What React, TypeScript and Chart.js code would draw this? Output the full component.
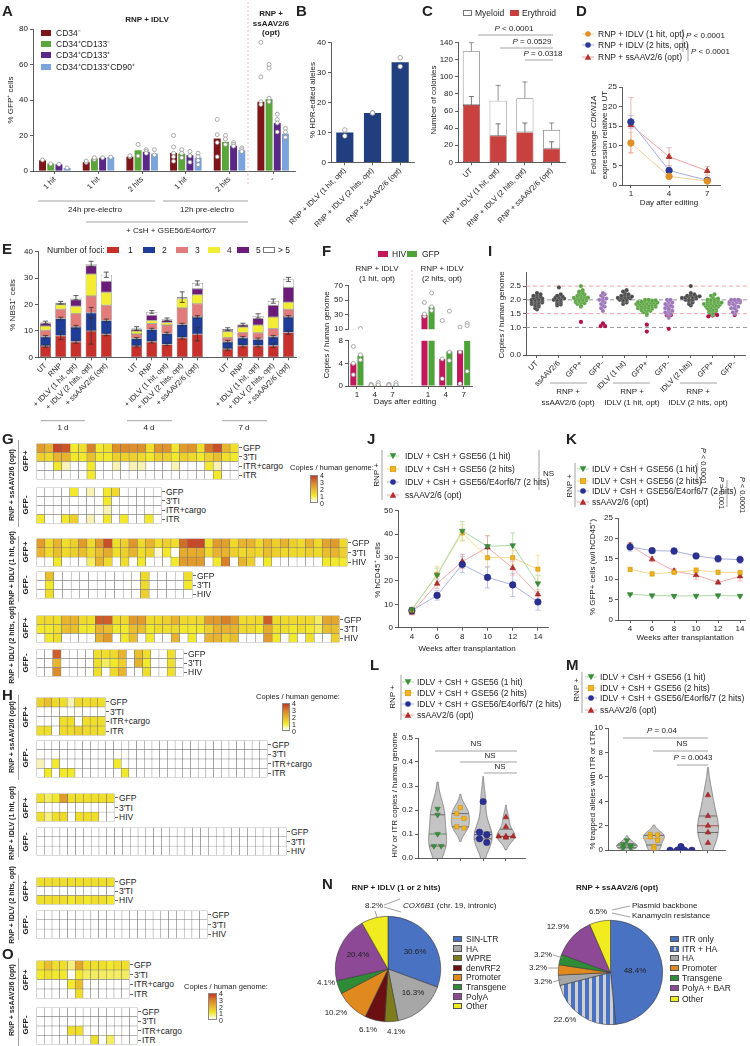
import React, { useEffect, useRef } from 'react';
import { Chart, registerables } from 'chart.js';

Chart.register(...registerables);

const FONT = "'Liberation Sans', Arial, Helvetica, sans-serif";
Chart.defaults.font.family = FONT;
Chart.defaults.font.size = 8;
Chart.defaults.color = '#222';

// ---------------- Panel A ----------------
const A_GROUPS = ['1 hit', '1 hit', '2 hits', '1 hit', '2 hits', '-'];
const A_SERIES = ['CD34⁻', 'CD34⁺CD133⁻', 'CD34⁺CD133⁺', 'CD34⁺CD133⁺CD90⁺'];
const A_COLORS = ['#7e1619', '#5aa63b', '#5b2786', '#7ba4dc'];
const A_CD34N = [6.0, 5.0, 8.0, 10.2, 18.3, 39.0];
const A_CD133N = [4.2, 7.0, 11.7, 9.8, 16.4, 40.5];
const A_CD133P = [3.8, 7.5, 10.8, 8.9, 14.2, 27.0];
const A_CD90P = [1.7, 7.9, 9.8, 7.5, 11.7, 21.0];
const A_DOTS_CD34N = [[6.2], [4.8, 5.6], [8.0, 8.6], [20.0, 13.5, 10.0, 8.0, 5.5], [29.0, 20.5, 16.0, 8.0], [72.5, 53.0, 39.0, 37.5]];
const A_DOTS_CD133N = [[4.0], [6.5, 7.5], [15.0, 8.5], [12.0, 10.0, 7.5], [20.0, 18.0, 15.0], [60.0, 58.0, 41.0, 39.0]];
const A_DOTS_CD133P = [[3.8], [7.5], [12.0, 11.0, 10.0], [11.0, 8.5, 5.0], [16.0, 15.0, 14.0], [32.0, 29.0, 27.0, 22.0]];
const A_DOTS_CD90P = [[1.8], [7.8], [12.0, 9.0], [10.0, 8.0, 6.0, 3.5], [13.0, 12.0, 11.0], [24.0, 22.0, 19.0, 19.0]];

// ---------------- Panel B ----------------
const B_LABELS = ['RNP + IDLV (1 hit, opt)', 'RNP + IDLV (2 hits, opt)', 'RNP + ssAAV2/6 (opt)'];
const B_VALUES = [10.0, 16.5, 33.5];
const B_DOTS = [[10.8, 8.8], [16.5, 16.5], [35.0, 32.0]];

// ---------------- Panel C ----------------
const C_LABELS = ['UT', 'RNP + IDLV (1 hit, opt)', 'RNP + IDLV (2 hits, opt)', 'RNP + ssAAV2/6 (opt)'];
const C_ERY = [67, 31, 35, 16];
const C_MYE = [63, 41, 40, 22];
const C_ERY_ERR = [10, 14, 11, 8];
const C_TOT_ERR = [10, 18, 19, 8];

// ---------------- Panel D ----------------
const D_DAYS = [1, 4, 7];
const D_1HIT = [10.7, 2.2, 1.0];
const D_1HIT_ERR = [2.7, 0.5, 0.3];
const D_2HIT = [16.1, 3.7, 1.2];
const D_2HIT_ERR = [1.6, 1.2, 0.3];
const D_AAV = [15.3, 7.2, 3.6];
const D_AAV_ERR = [7.0, 2.3, 1.1];

// ---------------- Panel E ----------------
const E_LABELS = ['UT', 'RNP', '+ IDLV (1 hit, opt)', '+ IDLV (2 hits, opt)', '+ ssAAV2/6 (opt)', '',
  'UT', 'RNP', '+ IDLV (1 hit, opt)', '+ IDLV (2 hits, opt)', '+ ssAAV2/6 (opt)', '',
  'UT', 'RNP', '+ IDLV (1 hit, opt)', '+ IDLV (2 hits, opt)', '+ ssAAV2/6 (opt)'];
const E_FOCI = ['1', '2', '3', '4', '5', '> 5'];
const E_COLORS = ['#c8302b', '#1f3c98', '#e27c7a', '#f2ec35', '#6b1c78', '#ffffff'];
const E_F1 = [4.3, 8.2, 5.9, 10.0, 8.7, null, 4.3, 5.9, 4.9, 7.4, 8.7, null, 3.1, 4.4, 4.4, 4.4, 9.4];
const E_F2 = [3.5, 6.5, 5.6, 6.9, 5.3, null, 2.8, 4.6, 4.1, 5.0, 6.6, null, 2.8, 3.0, 2.4, 3.4, 5.9];
const E_F3 = [2.5, 3.5, 5.1, 6.3, 5.7, null, 1.7, 2.3, 3.2, 6.3, 5.0, null, 1.6, 2.0, 2.5, 3.1, 2.9];
const E_F4 = [1.6, 1.7, 2.8, 8.4, 5.0, null, 1.2, 1.2, 1.0, 3.5, 3.4, null, 2.2, 2.1, 2.9, 4.4, 2.7];
const E_F5 = [0.9, 0.4, 2.4, 3.1, 4.1, null, 0.5, 1.9, 0.8, 0.2, 2.3, null, 0.6, 0.7, 2.5, 4.4, 5.7];
const E_F6 = [0.4, 0.4, 0.8, 0.7, 2.5, null, 0.4, 1.3, 0.4, 0.4, 2.2, null, 0.4, 0.2, 1.0, 1.6, 2.9];
const E_ERR1 = [0.5, 1.5, 0.6, 5.0, 0.5, null, 0.4, 0.5, 0.5, 0.5, 2.5, null, 0.5, 0.5, 0.5, 0.7, 0.7];
const E_ERR2 = [0.5, 0.5, 0.6, 2.0, 0.5, null, 0.4, 0.5, 0.5, 0.5, 0.5, null, 0.5, 0.5, 0.5, 0.5, 0.5];
const E_ERR_TOP = [0.5, 0.5, 0.8, 1.0, 1.0, null, 0.7, 0.5, 0.5, 2.0, 0.8, null, 0.5, 0.5, 0.8, 0.8, 0.8];

// ---------------- Panel F ----------------
const F_LABELS = ['1', '4', '7', '', '1', '4', '7'];
const F_HIV = [4.0, 0.15, 0.15, null, 30, 4.8, 6.3];
const F_GFP = [5.4, 0.2, 0.2, null, 41, 6.1, 8.0];
const F_HIV_DOTS = [[7, 2, 4], [0.3, 0.1], [0.3, 0.1], [], [47, 28, 31], [22, 1.3, 4.8], [13, 0.4, 6]];
const F_GFP_DOTS = [[11, 5.5, 4.6], [0.6, 0.2], [0.6, 0.2], [], [60, 36, 41], [35, 4.5, 6], [18, 15, 2.6]];

// ---------------- Panel I ----------------
const I_LABELS = ['UT', 'ssAAV2/6', 'GFP+', 'GFP-', 'IDLV (1 hit)', 'GFP+', 'GFP-', 'IDLV (2 hits)', 'GFP+', 'GFP-'];
const I_TICKS = [0, 1, 1.5, 2, 2.5];
const I_UT = [1.65, 1.7, 1.75, 1.8, 1.82, 1.85, 1.88, 1.9, 1.9, 1.92, 1.95, 1.97, 1.98, 2.0, 2.0, 2.02, 2.05, 2.07, 2.1, 2.12, 2.15, 2.18, 2.2, 2.25];
const I_AAV = [1.8, 1.83, 1.87, 1.9, 1.95, 1.97, 2.0, 2.0, 2.03, 2.05, 2.08, 2.1, 2.12, 2.15, 2.2, 2.45];
const I_AAV_GFPP = [1.75, 1.8, 1.85, 1.9, 1.92, 1.95, 1.97, 2.0, 2.0, 2.02, 2.05, 2.07, 2.1, 2.1, 2.12, 2.15, 2.17, 2.2, 2.22, 2.25, 2.3, 2.35, 2.5, 1.88, 1.98, 2.08];
const I_AAV_GFPM = [1.6, 1.7, 1.75, 1.8, 1.85, 1.9, 1.95, 2.0, 2.0, 2.05, 2.1, 2.15, 2.2, 2.25];
const I_IDLV1 = [1.85, 1.9, 1.95, 1.97, 2.0, 2.0, 2.02, 2.05, 2.07, 2.08, 2.1, 2.1, 2.12, 2.15, 2.18, 2.2, 2.25, 2.3, 2.35];
const I_IDLV1_GFPP = [1.45, 1.5, 1.55, 1.6, 1.6, 1.62, 1.65, 1.65, 1.68, 1.7, 1.7, 1.72, 1.72, 1.75, 1.75, 1.78, 1.78, 1.8, 1.8, 1.82, 1.83, 1.85, 1.85, 1.87, 1.88, 1.9, 1.9, 1.9, 1.92, 1.93, 1.95, 1.95, 1.97, 1.98, 2.0, 2.0];
const I_IDLV1_GFPM = [1.35, 1.4, 1.5, 1.5, 1.55, 1.6, 1.6, 1.65, 1.7, 1.7, 1.75, 1.8, 1.8, 1.85, 1.9, 1.9, 1.95, 2.0, 2.0];
const I_IDLV2 = [1.8, 1.85, 1.9, 1.95, 1.98, 2.0, 2.0, 2.02, 2.05, 2.07, 2.08, 2.1, 2.1, 2.12, 2.13, 2.15, 2.18, 2.2, 2.25, 2.5];
const I_IDLV2_GFPP = [1.45, 1.5, 1.55, 1.6, 1.6, 1.62, 1.65, 1.68, 1.7, 1.72, 1.75, 1.75, 1.78, 1.78, 1.8, 1.8, 1.82, 1.85, 1.85, 1.87, 1.88, 1.9, 1.9, 1.92, 1.93, 1.95, 1.97, 2.0, 2.0, 2.02, 2.05, 2.1, 2.15, 2.2];
const I_IDLV2_GFPM = [1.5, 1.55, 1.6, 1.7, 1.7, 1.75, 1.8, 1.85, 1.85, 1.9, 1.9, 1.92, 1.95, 1.95, 1.97, 2.0, 2.0, 2.0];
const I_OUT_AAV_GFPP = [1.2];
const I_OUT_AAV_GFPM = [1.15, 1.05, 1.05];
const I_OUT_IDLV1_GFPP = [1.1, 0.85];
const I_OUT_IDLV1_GFPM = [1.45, 0.95, 1.45];
const I_OUT_IDLV2_GFPP = [1.4, 1.43, 1.45, 1.47, 1.5];
const I_OUT_IDLV2_GFPM = [1.45];
const I_GRAY = '#4a4a4a', I_GREEN = '#5aa541', I_PURPLE = '#9c74b8', I_RED = '#b0124c';

// ---------------- Panels J, K ----------------
const WEEKS = [4, 6, 8, 10, 12, 14];
const SERIES_JKLM = ['IDLV + CsH + GSE56 (1 hit)', 'IDLV + CsH + GSE56 (2 hits)', 'IDLV + CsH + GSE56/E4orf6/7 (2 hits)', 'ssAAV2/6 (opt)'];
const J_1HIT = [7.8, 22.5, 41.4, 34.8, 35.2, 18.9];
const J_2HIT = [7.5, 22.8, 40.5, 29.9, 29.9, 25.0];
const J_E4 = [7.3, 13.8, 27.0, 21.5, 18.3, 11.0];
const J_AAV = [6.5, 18.8, 28.3, 34.3, 25.5, 14.2];
const J_1HIT_ERR = [1.0, 3.0, 4.0, 4.5, 5.3, 3.5];
const J_2HIT_ERR = [1.0, 3.5, 3.5, 4.0, 3.0, 6.0];
const J_E4_ERR = [1.0, 2.0, 3.5, 4.5, 5.0, 3.5];
const J_AAV_ERR = [1.0, 2.0, 3.0, 5.0, 3.0, 2.0];
const K_1HIT = [6.3, 6.0, 5.9, 5.9, 6.0, 5.9];
const K_2HIT = [12.4, 11.3, 11.7, 12.2, 11.7, 11.6];
const K_E4 = [17.9, 17.0, 16.9, 15.7, 15.0, 14.8];
const K_AAV = [18.3, 14.9, 12.0, 11.0, 9.2, 10.7];
const K_1HIT_ERR = [0.3, 0.3, 0.3, 0.3, 0.3, 0.3];
const K_2HIT_ERR = [0.5, 0.6, 0.6, 0.6, 0.5, 0.6];
const K_E4_ERR = [1.0, 0.5, 0.8, 0.7, 0.8, 0.9];
const K_AAV_ERR = [0.5, 0.6, 0.6, 1.0, 0.5, 1.1];

// ---------------- Panels L, M ----------------
const L_1HIT = [0.205, 0.18, 0.1, 0.05, 0.05];
const L_2HIT = [0.21, 0.185, 0.165, 0.13, 0.125];
const L_E4 = [0.235, 0.108, 0.097, 0.08, 0.065];
const L_AAV = [0.17, 0.13, 0.09, 0.09, 0.09, 0.085];
const M_1HIT = [0.8, 0.5, 0.4, 0.2, 0.2];
const M_2HIT = [1.3, 1.25, 1.1, 0.8, 0.3, 0.1];
const M_E4 = [0.3, 0.0, 0.0, 0.0, 0.0];
const M_AAV = [4.5, 2.8, 2.0, 1.45, 0.6];

// ---------------- Panel N ----------------
const N1_LABELS = ['SIN-LTR', 'HA', 'WPRE', 'denvRF2', 'Promoter', 'Transgene', 'PolyA', 'Other'];
const N1_VALUES = [30.6, 16.3, 4.1, 6.1, 10.2, 4.1, 20.4, 8.2];
const N1_COLORS = ['#4a72c3', '#a7a7a7', '#7d7d1e', '#6a0f12', '#e0891f', '#2f8b35', '#8d4896', '#f1ec1f'];
const N2_LABELS = ['ITR only', 'ITR + HA', 'HA', 'Promoter', 'Transgene', 'PolyA + BAR', 'Other'];
const N2_VALUES = [48.4, 22.6, 3.2, 3.2, 3.2, 12.9, 6.5];
const N2_COLORS = ['#4a72c3', 'STRIPE', '#a7a7a7', '#e0891f', '#2f8b35', '#8d4896', '#f1ec1f'];

// ---------------- Heatmaps (copies / human genome) ----------------
const ROWS4 = ['GFP', "3'TI", 'ITR+cargo', 'ITR'];
const ROWS3 = ['GFP', "3'TI", 'HIV'];
const G1_GFP = [2.5, 2, 3.8, 3.6, 1, 1.2, 3, 1, 1.2, 2.7, 2.8, 2.7, 2.7, 1.2, 2.6, 2.6, 1.1, 2.5, 2.6, 1.2, 3.2, 3.7, 2, 1.2];
const G1_TI = [1.5, 1.3, 2, 2, 1, 1, 1.8, 1, 1, 1.5, 1.5, 1.5, 1.3, 1, 1.5, 1.5, 1, 1.5, 1.3, 1, 1.5, 1.8, 1.2, 1];
const G1_ITRC = [0, 0, 1, 0.5, 0, 0, 1, 0, 0, 0.5, 0, 0.5, 0.5, 0, 0, 0, 0.5, 0, 0, 0, 1, 0.5, 0, 0];
const G1_ITR = [0, 0, 0, 0, 0, 0, 1, 0, 0, 0, 0, 0, 0, 0, 0, 0, 0, 0, 0, 0, 0, 1, 0, 0];
const G2_GFP = [0, 0, 0, 0, 1, 0, 0.5, 0, 1, 1.3, 0, 0, 0, 0, 0];
const G2_TI = [0, 0, 0, 0, 0, 0, 0, 0, 1, 0, 0, 0, 0, 0, 0];
const G2_ITRC = [0, 0, 0, 0, 0, 0, 0, 0, 0.5, 0, 0, 0, 0, 0, 0];
const G2_ITR = [1, 0, 0, 1, 1.5, 0, 0.5, 0, 1, 0, 1, 0, 0, 1, 0];
const G3_GFP = [2.5, 1.3, 2, 1.2, 1.5, 2.5, 1.3, 2.5, 3.7, 1.2, 1.5, 2.6, 1.3, 2, 1.2, 1.5, 1.2, 3.3, 3.8, 3.8, 1.2, 2.5, 2.4, 1.3, 2, 2, 1.3, 2, 1.5, 2, 1.5, 1.3, 2, 1.3, 2.3, 2.5, 1.3];
const G3_TI = [2, 1.3, 1.8, 1.3, 1.5, 1.8, 1.3, 1.8, 2.2, 1.2, 1.5, 2, 1.2, 1.5, 0.3, 1, 0, 2.2, 2.2, 2.2, 1.3, 2, 2, 1.5, 1.3, 1.5, 1.3, 1.8, 1.5, 1.3, 1.3, 1.3, 1.5, 1.3, 1.8, 2, 1.5];
const G3_HIV = [0, 0, 1, 0, 0, 0, 0.8, 2, 1.3, 0, 1.2, 0, 1, 0, 0, 0, 1, 2.5, 2.5, 2.5, 0, 1, 3, 0, 2, 1.5, 0, 1, 0, 0, 0, 0, 0, 0, 1, 1, 1];
const G4_GFP = [0, 1.8, 0, 0, 0, 0, 0, 0, 0, 0, 0, 0, 1.3, 0, 0, 0, 0, 1.2];
const G4_TI = [0, 1, 0, 0, 0, 0, 0, 0, 0, 0, 0, 0, 1.3, 0, 0, 0, 0, 1];
const G4_HIV = [0, 1.2, 0, 0, 0, 0, 0, 0, 0, 0, 0, 0, 1.5, 0, 0, 0, 0, 0];
const G5_GFP = [1.3, 1.3, 1.2, 2, 2, 1.3, 1.2, 3.5, 3.5, 1.3, 1.3, 2.5, 2.5, 1.3, 1.3, 1.5, 2, 1.3, 1.3, 1.3, 2.5, 2.5, 3, 2.5, 1.3, 1.3, 1.3, 3.5, 1.3, 1.3, 1.3, 1.3, 1.3, 0.8, 2.3, 2.3];
const G5_TI = [1, 1, 1.2, 1.8, 1.8, 1, 1, 2, 1.8, 1, 1, 1.8, 1.8, 1, 1.2, 1.2, 1.3, 1, 1, 1, 1.5, 2, 2, 2, 1.3, 1.3, 1, 2.2, 1.2, 1.2, 1, 1.2, 1, 0.8, 1.8, 1.8];
const G5_HIV = [0, 1, 1.2, 0, 0, 0, 0, 2, 2.5, 0, 1, 1.8, 0, 1, 0, 0, 2, 0, 1, 0, 2, 2, 1.5, 1.8, 0, 0, 0, 2.5, 1, 0, 1, 0, 1.2, 0, 0, 1.5];
const G6_GFP = [0, 0, 3.5, 0, 0, 0, 0, 1.2, 1.2, 1.3, 2, 0, 1.8, 1.2, 0, 0, 1.2, 0];
const G6_TI = [0, 0, 2, 0, 0, 0, 0, 1.2, 0.8, 1, 1.5, 0, 2, 1, 0, 0, 1.2, 0];
const G6_HIV = [0, 0, 2.8, 0, 0, 0, 0, 1.2, 0, 1.3, 2, 0, 0, 1.2, 0, 0, 1.2, 0];
const H1_GFP = [1.5, 1.8, 1.3, 1.2, 0.5, 1.3, 1.2, 1.3, 1.2];
const H1_TI = [0, 0, 0, 0, 0, 0, 0, 0, 0];
const H1_ITRC = [0, 0, 0, 1.2, 1.2, 0, 1.2, 1.2, 1.2];
const H1_ITR = [1.2, 1.2, 0, 1.3, 1.3, 1.5, 1.3, 1.3, 1.2];
const H2_GFP = [0, 0, 0, 0, 0, 0, 0, 0, 0, 0, 0, 0, 0, 0, 0, 0, 0, 0, 0, 0, 0, 0, 0, 0, 0, 0, 0, 0, 0, 0];
const H2_TI = [0, 0, 0, 0, 0, 0, 0, 0, 0, 0, 0, 0, 0, 0, 0, 0, 0, 0, 0, 0, 0, 0, 0, 0, 0, 0, 0, 0, 0, 0];
const H2_ITRC = [0.5, 0, 1, 0, 0, 0, 0, 0, 0, 0, 1, 0, 0, 0, 0, 0, 0, 0, 0, 0, 0, 0, 0, 0, 0, 0, 0, 0, 0, 0];
const H2_ITR = [0, 1, 0, 1, 1, 0, 0, 0, 0, 0, 0, 1, 0, 0, 0, 0, 0, 0, 0, 0, 0, 0, 0, 0, 0, 0, 0, 0, 0, 0];
const H3_GFP = [1.2, 0.8, 1.0, 2.5, 1.2, 1.2, 1.2, 1.2, 1.2, 1.2];
const H3_TI = [0, 0, 0, 0, 0, 0, 0, 0, 0, 0];
const H3_HIV = [1.2, 0.7, 1.2, 1.3, 0, 1.2, 1.2, 1.2, 0, 0];
const H4_GFP = [0, 0, 0, 0, 0, 0, 0, 0, 0, 0, 0, 0, 0, 0, 0, 0, 0, 0, 0, 0, 0, 0, 0, 0, 0, 0, 0, 0, 0, 0, 0, 0];
const H4_TI = [0, 0, 0, 0, 0, 0, 0, 0, 0, 0, 0, 0, 0, 0, 0, 0, 0, 0, 0, 0, 0, 0, 0, 0, 0, 0, 0, 0, 0, 0, 0, 0];
const H4_HIV = [0, 0, 0, 0, 0, 0, 0, 0, 0, 0, 0, 0, 0, 0, 0, 0, 0, 0, 0, 0, 0, 0, 0, 0, 0, 0, 0, 0, 0, 0, 0, 0];
const H5_GFP = [1.2, 1.2, 1.2, 1.2, 1.2, 1.2, 1.2, 1.2, 1.2, 1.2];
const H5_TI = [0, 0, 0, 0, 0, 0, 0, 0, 0, 0];
const H5_HIV = [1.2, 1.2, 1.2, 1.2, 1.0, 1.2, 1.0, 1.2, 1.2, 1.0];
const H6_GFP = [0, 0, 0, 0, 0, 0, 0, 0, 0, 0, 0, 0, 0, 0, 0, 0, 0, 0, 0, 0, 0, 0];
const H6_TI = [0, 0, 0, 0, 0, 0, 0, 0, 0, 0, 0, 0, 0, 0, 0, 0, 0, 0, 0, 0, 0, 0];
const H6_HIV = [0, 0, 0, 0, 0, 0, 0, 0, 0, 0, 0, 0, 0, 0, 0, 0, 0, 0, 0, 0, 0, 0];
const O1_GFP = [1.2, 1.8, 1.2, 1.2, 0.7, 2.3, 1.2, 1.2, 1.2, 1.0, 1.2, 1.2];
const O1_TI = [1, 1.2, 1, 1, 0, 1, 0.8, 0.8, 0.8, 0.8, 0.8, 0.8];
const O1_ITRC = [0, 0, 0, 0, 1, 1.8, 0, 0, 0, 0, 0, 0];
const O1_ITR = [0, 0, 0, 0, 0, 1.2, 0, 0, 0, 0, 0, 0];
const O2_GFP = [0, 0, 0, 0, 0, 0, 0, 0, 0, 0, 0, 0, 0];
const O2_TI = [0, 0, 0, 0, 0, 0, 0, 0, 0, 0, 0, 0, 0];
const O2_ITRC = [0, 0, 0, 0, 1.2, 1.2, 0, 0, 0, 0, 0, 0, 0];
const O2_ITR = [0, 0, 0, 0, 0, 0, 0, 1.2, 0, 0.8, 0, 0, 0];

// ---------------- helpers ----------------
const AX = '#333';
const F75 = { size: 7.5, family: FONT };
const TICKF = { size: 8, family: FONT };
const rot = { minRotation: 45, maxRotation: 45, autoSkip: false };

const HEAT_STOPS: [number, number[]][] = [[0, [255, 255, 255]], [0.5, [248, 243, 180]], [1, [242, 233, 44]], [2, [232, 180, 47]], [3, [217, 129, 42]], [4, [194, 58, 39]]];
function heatColor(v: number) {
  if (!v || v <= 0) return '#ffffff';
  const t = Math.min(v, 4);
  for (let i = 1; i < HEAT_STOPS.length; i++) {
    const [b, cb] = HEAT_STOPS[i];
    const [a, ca] = HEAT_STOPS[i - 1];
    if (t <= b) {
      const f = (t - a) / (b - a);
      const c = ca.map((x, k) => Math.round(x + (cb[k] - x) * f));
      return `rgb(${c.join(',')})`;
    }
  }
  return 'rgb(194,58,39)';
}

function yAx(width: number, o: any = {}) {
  const { ticks = {}, grid = {}, ...rest } = o;
  return {
    type: 'linear', position: 'left',
    afterFit: (s: any) => { s.width = width; },
    grid: { drawOnChartArea: false, tickLength: 3, color: AX, lineWidth: 0.8, ...grid },
    border: { display: true, color: AX, width: 0.8 },
    ticks: { color: '#222', font: TICKF, padding: 2, ...ticks },
    ...rest,
  };
}
function xAx(height: number, o: any = {}) {
  const { ticks = {}, grid = {}, ...rest } = o;
  return {
    position: 'bottom',
    afterFit: (s: any) => { s.height = height; },
    grid: { drawOnChartArea: false, tickLength: 3, color: AX, lineWidth: 0.8, offset: false, ...grid },
    border: { display: true, color: AX, width: 0.8 },
    ticks: { color: '#222', font: TICKF, padding: 1, ...ticks },
    ...rest,
  };
}
function opts(pad: any, scales: any) {
  return {
    responsive: false, maintainAspectRatio: false, animation: false, devicePixelRatio: 1, events: [],
    layout: { padding: pad }, scales,
    plugins: { legend: { display: false }, tooltip: { enabled: false } },
  };
}
function setTicks(vals: number[]) {
  return (s: any) => { s.ticks = vals.map((v) => ({ value: v })); };
}

function drawErrors(chart: any, front: boolean) {
  const ctx = chart.ctx;
  chart.data.datasets.forEach((ds: any, i: number) => {
    if (!ds.errors || !!ds.errFront !== front) return;
    const meta = chart.getDatasetMeta(i);
    const ys = chart.scales[meta.yAxisID];
    ctx.save();
    ctx.strokeStyle = ds.errColor || '#222';
    ctx.lineWidth = ds.errWidth || 0.8;
    ctx.beginPath();
    meta.data.forEach((el: any, j: number) => {
      const e = ds.errors[j];
      if (e == null || !el || !isFinite(el.y)) return;
      const d = Math.abs(ys.getPixelForValue(0) - ys.getPixelForValue(e));
      const top = el.y - d;
      const bot = ds.errUp ? el.y : el.y + d;
      const cw = ds.capW ?? 2.5;
      ctx.moveTo(el.x, top); ctx.lineTo(el.x, bot);
      ctx.moveTo(el.x - cw, top); ctx.lineTo(el.x + cw, top);
      if (!ds.errUp) { ctx.moveTo(el.x - cw, bot); ctx.lineTo(el.x + cw, bot); }
    });
    ctx.stroke();
    ctx.restore();
  });
}
Chart.register({ id: 'errbars', beforeDatasetsDraw: (c: any) => drawErrors(c, false), afterDatasetsDraw: (c: any) => drawErrors(c, true) } as any);

// individual replicate dots, placed through the chart's own x / y scales
function dotsPlugin(sets: { pts: { x: number; y: number }[]; r: number; fill: string; stroke: string }[]) {
  return {
    id: 'dots',
    afterDatasetsDraw(chart: any) {
      const { ctx, chartArea } = chart;
      const xs = chart.scales.x, ys = chart.scales.y;
      ctx.save();
      ctx.beginPath();
      ctx.rect(chartArea.left - 10, chartArea.top - 2.5, chartArea.right - chartArea.left + 20, chartArea.bottom - chartArea.top + 2.5);
      ctx.clip();
      sets.forEach((s) => s.pts.forEach((p) => {
        ctx.beginPath();
        ctx.arc(xs.getPixelForValue(p.x), ys.getPixelForValue(p.y), s.r, 0, Math.PI * 2);
        ctx.fillStyle = s.fill; ctx.fill();
        ctx.lineWidth = 0.7; ctx.strokeStyle = s.stroke; ctx.stroke();
      }));
      ctx.restore();
    },
  };
}

function refLines(lines: { y: number; color: string }[]) {
  return {
    id: 'reflines',
    beforeDatasetsDraw(chart: any) {
      const { ctx, chartArea } = chart;
      const ys = chart.scales.y;
      lines.forEach((l) => {
        const py = ys.getPixelForValue(l.y);
        ctx.save();
        ctx.strokeStyle = l.color; ctx.lineWidth = 0.9; ctx.setLineDash([4, 3]);
        ctx.beginPath(); ctx.moveTo(chartArea.left, py); ctx.lineTo(chartArea.right + 4, py); ctx.stroke();
        ctx.restore();
      });
    },
  };
}

function violins(groups: { x: number; values: number[]; med: string }[], halfW: number) {
  return {
    id: 'violins',
    beforeDatasetsDraw(chart: any) {
      const { ctx, chartArea } = chart;
      const xs = chart.scales.x, ys = chart.scales.y;
      ctx.save();
      ctx.beginPath();
      ctx.rect(chartArea.left, chartArea.top - 20, chartArea.right - chartArea.left, chartArea.bottom - chartArea.top + 20);
      ctx.clip();
      groups.forEach((g) => {
        const v = [...g.values].sort((a, b) => a - b);
        const n = v.length;
        const mean = v.reduce((s, a) => s + a, 0) / n;
        const sd = Math.sqrt(v.reduce((s, a) => s + (a - mean) ** 2, 0) / (n - 1));
        const h = Math.max(1.06 * sd * Math.pow(n, -0.2), 1e-3);
        const lo = v[0] - 2 * h, hi = v[n - 1] + 2 * h;
        const dens = (y: number) => v.reduce((s, a) => s + Math.exp(-0.5 * ((y - a) / h) ** 2), 0);
        const N = 90;
        const prof: [number, number][] = [];
        let mx = 0;
        for (let i = 0; i <= N; i++) {
          const y = lo + ((hi - lo) * i) / N;
          const d = dens(y);
          prof.push([y, d]);
          mx = Math.max(mx, d);
        }
        const cx = xs.getPixelForValue(g.x);
        ctx.beginPath();
        prof.forEach(([y, d], i) => {
          const px = cx - (d / mx) * halfW, py = ys.getPixelForValue(y);
          if (i) ctx.lineTo(px, py); else ctx.moveTo(px, py);
        });
        for (let i = prof.length - 1; i >= 0; i--) {
          const [y, d] = prof[i];
          ctx.lineTo(cx + (d / mx) * halfW, ys.getPixelForValue(y));
        }
        ctx.closePath();
        ctx.fillStyle = '#c4c4c4'; ctx.fill();
        ctx.strokeStyle = '#6a6a6a'; ctx.lineWidth = 0.7; ctx.stroke();
        const q = (p: number) => {
          const idx = (n - 1) * p; const a = Math.floor(idx), b = Math.ceil(idx);
          return v[a] + (v[b] - v[a]) * (idx - a);
        };
        ([[q(0.25), '#555'], [q(0.5), g.med], [q(0.75), '#555']] as [number, string][]).forEach(([y, c]) => {
          const w = (dens(y) / mx) * halfW;
          const py = ys.getPixelForValue(y);
          ctx.beginPath(); ctx.moveTo(cx - w, py); ctx.lineTo(cx + w, py);
          ctx.strokeStyle = c; ctx.lineWidth = 0.8; ctx.stroke();
        });
      });
      ctx.restore();
    },
  };
}

// beeswarm layout of the typed values (positions only)
function swarm(vals: number[], cx: number, bin: number, step: number) {
  const groups = new Map<number, number[]>();
  vals.forEach((v) => {
    const k = Math.round(v / bin);
    if (!groups.has(k)) groups.set(k, []);
    groups.get(k)!.push(v);
  });
  const out: { x: number; y: number }[] = [];
  groups.forEach((arr) => arr.forEach((v, i) => out.push({ x: cx + (i - (arr.length - 1) / 2) * step, y: v })));
  return out;
}

const PT_STYLE = ['triangle', 'rect', 'circle', 'triangle'];
const PT_ROT = [180, 0, 0, 0];
const SER_C = ['#3b8e3b', '#f1b321', '#2b3192', '#b42c2c'];
const SER_L = ['#a9d9a2', '#f6da8e', '#aab0e1', '#eeaaaa'];
const SER_B = ['#2d6e2d', '#c28a00', '#1d2370', '#8a1f1f'];
const SER_K = ['d', 's', 'c', 'u'];

function lineDs(xs: number[], ys: number[], errs: number[], k: number) {
  return {
    type: 'line', label: SERIES_JKLM[k],
    data: xs.map((x, j) => ({ x, y: ys[j] })),
    borderColor: SER_L[k], borderWidth: 1,
    pointStyle: PT_STYLE[k], pointRotation: PT_ROT[k], pointRadius: k === 1 ? 3 : 3.3,
    pointBackgroundColor: SER_C[k], pointBorderColor: SER_B[k], pointBorderWidth: 0.5,
    errors: errs, errColor: SER_L[k], capW: 2.5,
  };
}

// ---------------- chart builders ----------------
function makeA() {
  const vals = [A_CD34N, A_CD133N, A_CD133P, A_CD90P];
  const dots = [A_DOTS_CD34N, A_DOTS_CD133N, A_DOTS_CD133P, A_DOTS_CD90P];
  const bars = vals.map((v, j) => ({ label: A_SERIES[j], data: v, backgroundColor: A_COLORS[j], categoryPercentage: 0.75, barPercentage: 0.85 }));
  const pts = dots.map((d, j) => ({
    pts: d.flatMap((arr, i) => arr.map((v) => ({ x: i + (j - 1.5) * 0.1875, y: v }))),
    r: 2, fill: '#fff', stroke: '#8a8a8a',
  }));
  return {
    type: 'bar', data: { labels: A_GROUPS, datasets: bars },
    options: opts({ top: 9, right: 5, left: 0, bottom: 0 }, {
      x: xAx(29, { type: 'category', ticks: { ...rot, font: F75 } }),
      y: yAx(33, { min: 0, max: 80, ticks: { stepSize: 20 } }),
    }),
    plugins: [dotsPlugin(pts)],
  };
}

function makeB() {
  return {
    type: 'bar',
    data: { labels: B_LABELS, datasets: [{ data: B_VALUES, backgroundColor: '#213f7e', barPercentage: 0.62, categoryPercentage: 1 }] },
    options: opts({ top: 7.7, right: 3, left: 0, bottom: 0 }, {
      x: xAx(72.7, { type: 'category', ticks: { ...rot, font: F75 } }),
      y: yAx(71, { min: 0, max: 40, ticks: { stepSize: 10 } }),
    }),
    plugins: [dotsPlugin([{ pts: B_DOTS.flatMap((arr, i) => arr.map((v) => ({ x: i, y: v }))), r: 2.3, fill: '#fff', stroke: '#8a8a8a' }])],
  };
}

function makeC() {
  return {
    type: 'bar',
    data: {
      labels: C_LABELS,
      datasets: [
        { label: 'Erythroid', data: C_ERY, backgroundColor: '#c8413f', borderColor: '#8b2a2a', borderWidth: 0.6, borderSkipped: false, errors: C_ERY_ERR, errUp: true, errFront: true, errColor: '#555', barPercentage: 0.64, categoryPercentage: 1 },
        { label: 'Myeloid', data: C_MYE, backgroundColor: '#ffffff', borderColor: '#777', borderWidth: 0.8, borderSkipped: false, errors: C_TOT_ERR, errUp: true, errFront: true, errColor: '#777', barPercentage: 0.64, categoryPercentage: 1 },
      ],
    },
    options: opts({ top: 7.7, right: 10, left: 0, bottom: 0 }, {
      x: xAx(72.7, { type: 'category', stacked: true, ticks: { ...rot, font: F75 } }),
      y: yAx(58, { stacked: true, min: 0, max: 140, ticks: { stepSize: 20 } }),
    }),
  };
}

function makeD() {
  const mk = (ys: number[], errs: number[], c: string, lc: string, style: string) => ({
    type: 'line', data: D_DAYS.map((x, j) => ({ x, y: ys[j] })), borderColor: lc, borderWidth: 1,
    pointStyle: style, pointRadius: 3.2, pointBackgroundColor: c, pointBorderColor: c,
    errors: errs, errColor: lc, capW: 2.5,
  });
  return {
    type: 'line',
    data: { datasets: [
      mk(D_1HIT, D_1HIT_ERR, '#e0922a', '#f5cf98', 'circle'),
      mk(D_2HIT, D_2HIT_ERR, '#2b3b95', '#a6acdf', 'circle'),
      mk(D_AAV, D_AAV_ERR, '#b4352e', '#eba3a0', 'triangle'),
    ] },
    options: opts({ top: 7, right: 5, left: 0, bottom: 0 }, {
      x: xAx(17, { type: 'linear', min: 0.3, max: 8, afterBuildTicks: setTicks(D_DAYS) }),
      y: yAx(42, { min: 0, max: 25, ticks: { stepSize: 5 } }),
    }),
  };
}

function makeE() {
  const segs = [E_F1, E_F2, E_F3, E_F4, E_F5, E_F6];
  const errs: any[] = [E_ERR1, E_ERR2, null, null, null, E_ERR_TOP];
  return {
    type: 'bar',
    data: {
      labels: E_LABELS,
      datasets: segs.map((d, k) => ({
        label: E_FOCI[k], data: d, backgroundColor: E_COLORS[k], borderColor: '#444', borderWidth: 0.5, borderSkipped: false,
        barPercentage: 0.72, categoryPercentage: 1,
        ...(errs[k] ? { errors: errs[k], errFront: true, errColor: '#333', capW: 2.5 } : {}),
      })),
    },
    options: opts({ top: 6, right: 4, left: 0, bottom: 0 }, {
      x: xAx(57.7, { type: 'category', stacked: true, ticks: { ...rot, font: F75 }, grid: { color: (c: any) => (E_LABELS[c.index] === '' ? 'rgba(0,0,0,0)' : AX) } }),
      y: yAx(38, { stacked: true, min: 0, max: 40, ticks: { stepSize: 10 } }),
    }),
  };
}

function fBars() {
  return [
    { label: 'HIV', data: F_HIV, backgroundColor: '#c2185b', categoryPercentage: 0.8, barPercentage: 0.85 },
    { label: 'GFP', data: F_GFP, backgroundColor: '#4da338', categoryPercentage: 0.8, barPercentage: 0.85 },
  ];
}
function fDots() {
  const dots = (arrs: number[][], off: number) => arrs.flatMap((arr, i) => arr.map((v) => ({ x: i + off, y: v })));
  return dotsPlugin([
    { pts: dots(F_HIV_DOTS, -0.2), r: 2, fill: '#fff', stroke: '#8a8a8a' },
    { pts: dots(F_GFP_DOTS, 0.2), r: 2, fill: '#fff', stroke: '#8a8a8a' },
  ]);
}
function makeFUp() {
  return {
    type: 'bar', data: { labels: F_LABELS, datasets: fBars() },
    options: opts({ top: 5, right: 2.5, left: 0, bottom: 5.3 }, {
      x: { type: 'category', display: false },
      y: yAx(58, { min: 10, max: 70, afterBuildTicks: setTicks([10, 30, 50, 70]) }),
    }),
    plugins: [fDots()],
  };
}
function makeFLow() {
  return {
    type: 'bar', data: { labels: F_LABELS, datasets: fBars() },
    options: opts({ top: 5, right: 2.5, left: 0, bottom: 0 }, {
      x: xAx(12, { type: 'category', grid: { color: (c: any) => (F_LABELS[c.index] === '' ? 'rgba(0,0,0,0)' : AX) } }),
      y: yAx(58, { min: 0, max: 8, ticks: { stepSize: 2 } }),
    }),
    plugins: [fDots()],
  };
}

function makeI() {
  const mains = [I_UT, I_AAV, I_AAV_GFPP, I_AAV_GFPM, I_IDLV1, I_IDLV1_GFPP, I_IDLV1_GFPM, I_IDLV2, I_IDLV2_GFPP, I_IDLV2_GFPM];
  const outs = [[], [], I_OUT_AAV_GFPP, I_OUT_AAV_GFPM, [], I_OUT_IDLV1_GFPP, I_OUT_IDLV1_GFPM, [], I_OUT_IDLV2_GFPP, I_OUT_IDLV2_GFPM];
  const cols = [I_GRAY, I_GRAY, I_GREEN, I_PURPLE, I_GRAY, I_GREEN, I_PURPLE, I_GRAY, I_GREEN, I_PURPLE];
  const ds: any[] = [];
  mains.forEach((vals, k) => {
    ds.push({ type: 'scatter', data: swarm(vals, k, 0.075, 0.16), pointRadius: 2.1, pointBackgroundColor: cols[k], pointBorderColor: 'rgba(255,255,255,0.6)', pointBorderWidth: 0.3 });
    if (outs[k].length) ds.push({ type: 'scatter', data: swarm(outs[k], k, 0.075, 0.2), pointRadius: 2.1, pointBackgroundColor: I_RED, pointBorderWidth: 0 });
  });
  return {
    type: 'scatter', data: { datasets: ds },
    options: opts({ top: 7.3, right: 4, left: 0, bottom: 0 }, {
      x: xAx(50, { type: 'linear', min: -0.5, max: 9.5, afterBuildTicks: setTicks(I_LABELS.map((_, i) => i)), ticks: { ...rot, font: F75, callback: (v: any) => I_LABELS[v] ?? '' } }),
      y: yAx(56, { min: 0, max: 3, afterBuildTicks: setTicks(I_TICKS), ticks: { callback: (v: any) => Number(v).toFixed(1) } }),
    }),
    plugins: [refLines([{ y: 2.5, color: '#ef9aa0' }, { y: 2.0, color: '#8a8a8a' }, { y: 1.5, color: '#ef9aa0' }, { y: 1.0, color: '#8a8a8a' }])],
  };
}

function makeJ() {
  const s = [J_1HIT, J_2HIT, J_E4, J_AAV];
  const e = [J_1HIT_ERR, J_2HIT_ERR, J_E4_ERR, J_AAV_ERR];
  return {
    type: 'line', data: { datasets: s.map((v, k) => lineDs(WEEKS, v, e[k], k)) },
    options: opts({ top: 7.7, right: 7, left: 0, bottom: 0 }, {
      x: xAx(16.3, { type: 'linear', min: 2.9, max: 14.8, afterBuildTicks: setTicks(WEEKS) }),
      y: yAx(43, { min: 0, max: 50, ticks: { stepSize: 10 } }),
    }),
  };
}
function makeK() {
  const s = [K_1HIT, K_2HIT, K_E4, K_AAV];
  const e = [K_1HIT_ERR, K_2HIT_ERR, K_E4_ERR, K_AAV_ERR];
  return {
    type: 'line', data: { datasets: s.map((v, k) => lineDs(WEEKS, v, e[k], k)) },
    options: opts({ top: 8, right: 5, left: 0, bottom: 0 }, {
      x: xAx(16, { type: 'linear', min: 2.9, max: 14.45, afterBuildTicks: setTicks(WEEKS) }),
      y: yAx(38, { min: 0, max: 25, ticks: { stepSize: 5 } }),
    }),
  };
}

function violinChart(groups: number[][], bin: number, step: number, pad: any, xh: number, yw: number, xmin: number, xmax: number, y: any, halfW: number) {
  const ds = groups.map((vals, k) => ({
    type: 'scatter', label: SERIES_JKLM[k], data: swarm(vals, k, bin, step),
    pointStyle: PT_STYLE[k], pointRotation: PT_ROT[k], pointRadius: k === 1 ? 3 : 3.2,
    pointBackgroundColor: SER_C[k], pointBorderColor: SER_B[k], pointBorderWidth: 0.5,
  }));
  return {
    type: 'scatter', data: { datasets: ds },
    options: opts(pad, {
      x: xAx(xh, { type: 'linear', min: xmin, max: xmax, afterBuildTicks: setTicks([0, 1, 2, 3]), ticks: { display: false } }),
      y: yAx(yw, y),
    }),
    plugins: [violins(groups.map((v, k) => ({ x: k, values: v, med: SER_C[k] })), halfW)],
  };
}
function makeL() {
  return violinChart([L_1HIT, L_2HIT, L_E4, L_AAV], 0.025, 0.32, { top: 8, right: 2, left: 0, bottom: 0 }, 7, 38, -0.86, 3.86,
    { min: 0, max: 0.5, ticks: { stepSize: 0.1, callback: (v: any) => Number(v).toFixed(1) } }, 9);
}
function makeM() {
  return violinChart([M_1HIT, M_2HIT, M_E4, M_AAV], 0.45, 0.27, { top: 8, right: 5, left: 0, bottom: 0 }, 6, 38, -0.7, 3.63,
    { min: 0, max: 10, ticks: { stepSize: 2 } }, 10.5);
}

function stripePattern() {
  const c = document.createElement('canvas');
  c.width = 7; c.height = 7;
  const g = c.getContext('2d')!;
  g.fillStyle = '#4a72c3'; g.fillRect(0, 0, 7, 7);
  g.fillStyle = '#cfcfcf'; g.fillRect(4, 0, 3, 7);
  return g.createPattern(c, 'repeat');
}
function pieCfg(labels: string[], values: number[], colors: any[]) {
  return {
    type: 'pie',
    data: { labels, datasets: [{ data: values, backgroundColor: colors, borderColor: '#3a3a3a', borderWidth: 0.6 }] },
    options: { responsive: false, maintainAspectRatio: false, animation: false, devicePixelRatio: 1, events: [], layout: { padding: 1 }, plugins: { legend: { display: false }, tooltip: { enabled: false } } },
  };
}
function makeN1() { return pieCfg(N1_LABELS, N1_VALUES, N1_COLORS); }
function makeN2() {
  const pat = stripePattern();
  return pieCfg(N2_LABELS, N2_VALUES, N2_COLORS.map((c) => (c === 'STRIPE' ? pat : c)));
}

function heatConfig(rows: number[][]) {
  const labels = rows[0].map((_, i) => String(i + 1));
  const datasets = rows.map((r) => ({
    data: r.map(() => 1), backgroundColor: r.map(heatColor),
    borderColor: '#707070', borderWidth: 0.5, borderSkipped: false,
    barPercentage: 1, categoryPercentage: 1,
  })).reverse();
  return {
    type: 'bar', data: { labels, datasets },
    options: opts({ top: 0.5, left: 0.5, right: 0.5, bottom: 0.5 }, {
      x: { type: 'category', stacked: true, display: false },
      y: { type: 'linear', stacked: true, display: false, min: 0, max: rows.length },
    }),
  };
}

// ---------------- components ----------------
function ChartBox({ x, y, w, h, make }: { x: number; y: number; w: number; h: number; make: () => any }) {
  const ref = useRef<HTMLCanvasElement | null>(null);
  useEffect(() => {
    if (!ref.current) return;
    const chart = new Chart(ref.current, make());
    return () => chart.destroy();
  }, []);
  return <canvas ref={ref} width={w} height={h} style={{ position: 'absolute', left: x, top: y, width: w, height: h }} />;
}

function T({ x, y, s = 8, b, a = 'l', r, c = '#222', children }: { x: number; y: number; s?: number; b?: boolean; a?: 'l' | 'c' | 'r'; r?: number; c?: string; children: React.ReactNode }) {
  const tx = a === 'l' ? '0' : a === 'c' ? '-50%' : '-100%';
  const transform = r ? `translate(-50%, -50%) rotate(${r}deg)` : `translate(${tx}, -50%)`;
  return (
    <div style={{ position: 'absolute', left: x, top: y, transform, fontSize: s, fontWeight: b ? 'bold' : 'normal', whiteSpace: 'nowrap', lineHeight: 1, color: c, fontFamily: FONT }}>
      {children}
    </div>
  );
}

function Box({ x, y, w = 10, h = 6.5, bg, bd = 'none' }: { x: number; y: number; w?: number; h?: number; bg: string; bd?: string }) {
  return <div style={{ position: 'absolute', left: x, top: y - h / 2, width: w, height: h, background: bg, border: bd, boxSizing: 'border-box' }} />;
}

function Heat({ x, y, w, h, rows, labels }: { x: number; y: number; w: number; h: number; rows: number[][]; labels: string[] }) {
  const rh = h / rows.length;
  return (
    <>
      <ChartBox x={x} y={y} w={w} h={h} make={() => heatConfig(rows)} />
      {labels.map((l, i) => (
        <React.Fragment key={i}>
          <div style={{ position: 'absolute', left: x + w, top: y + rh * (i + 0.5) - 0.4, width: 2.5, height: 0.8, background: '#666' }} />
          <T x={x + w + 4} y={y + rh * (i + 0.5)} s={8.5}>{l}</T>
        </React.Fragment>
      ))}
    </>
  );
}

function ColorBar({ x, y, w, h }: { x: number; y: number; w: number; h: number }) {
  return (
    <>
      <div style={{ position: 'absolute', left: x, top: y, width: w, height: h, border: '0.5px solid #888', boxSizing: 'border-box', background: 'linear-gradient(to top, #ffffff 0%, rgb(242,233,44) 25%, rgb(232,180,47) 50%, rgb(217,129,42) 75%, rgb(194,58,39) 100%)' }} />
      {['4', '3', '2', '1', '0'].map((t, i) => <T key={t} x={x + w + 2} y={y + (h * i) / 4} s={7}>{t}</T>)}
    </>
  );
}

function Mk({ x, y, k, c, bc }: { x: number; y: number; k: string; c: string; bc?: string }) {
  const r = 2.8;
  if (k === 'c') return <circle cx={x} cy={y} r={r} fill={c} />;
  if (k === 's') return <rect x={x - r} y={y - r} width={2 * r} height={2 * r} fill={c} stroke={bc || c} strokeWidth={0.5} />;
  if (k === 'u') return <polygon points={`${x},${y - r - 0.5} ${x + r + 0.5},${y + r} ${x - r - 0.5},${y + r}`} fill={c} />;
  return <polygon points={`${x},${y + r + 0.5} ${x + r + 0.5},${y - r} ${x - r - 0.5},${y - r}`} fill={c} />;
}
function LegMk({ x, y, k, c, lc, bc }: { x: number; y: number; k: string; c: string; lc: string; bc?: string }) {
  return (
    <g>
      <line x1={x - 6} y1={y} x2={x + 6} y2={y} stroke={lc} strokeWidth={1} />
      <Mk x={x} y={y} k={k} c={c} bc={bc} />
    </g>
  );
}

const LINES: [number, number, number, number, string?, string?][] = [
  [38, 201, 155, 201], [163, 201, 248, 201], [86, 222, 248, 222],
  [248, 2, 248, 185, '#f2a7b0', '2,2'],
  [478, 35, 553, 35], [500, 48, 553, 48], [525, 60, 553, 60],
  [683, 29, 683, 52], [688, 44, 688, 61],
  [41, 420.7, 85, 420.7], [127, 420.7, 172, 420.7], [222, 420.7, 267, 420.7],
  [412, 270, 412, 386, '#f2a7b0', '2,2'],
  [550, 383, 587, 383], [613, 383, 650, 383], [680, 383, 717, 383],
  [18.5, 440, 18.5, 527], [18.5, 536, 18.5, 602], [18.5, 612, 18.5, 678],
  [18.5, 695, 18.5, 780], [18.5, 791, 18.5, 857], [18.5, 875, 18.5, 940], [18.5, 958, 18.5, 1046],
  [382, 450, 382, 500], [539, 450, 539, 490],
  [575, 463, 575, 507], [697, 463, 697, 483], [727, 480, 727, 507],
  [401, 675, 401, 720], [435, 751, 517, 751], [460, 762, 517, 762], [484, 773, 517, 773],
  [582, 672, 582, 713], [623, 738, 708, 738], [653, 751, 708, 751], [677, 765, 708, 765],
  [384, 905, 400, 899], [384, 907, 401, 912], [375, 911, 377, 917],
  [612, 910, 630, 906], [612, 913, 630, 917],
  [553, 955, 563, 958], [548, 968, 559, 968], [553, 982, 562, 979],
];

export default function App() {
  const leg = (xm: number, xt: number, ys: number[]) => SERIES_JKLM.map((s, k) => <T key={s + xm} x={xt} y={ys[k]} s={8.5}>{s}</T>);
  return (
    <div style={{ position: 'absolute', left: 0, top: 0, width: 750, height: 1046, overflow: 'hidden', background: '#fff', fontFamily: FONT, color: '#222' }}>
      <ChartBox x={0} y={20} w={300} h={180} make={makeA} />
      <ChartBox x={260} y={35} w={157} h={200} make={makeB} />
      <ChartBox x={400} y={35} w={175} h={200} make={makeC} />
      <ChartBox x={580} y={80} w={145} h={122} make={makeD} />
      <ChartBox x={0} y={245} w={300} h={170} make={makeE} />
      <ChartBox x={290} y={279} w={185} h={57} make={makeFUp} />
      <ChartBox x={290} y={334} w={185} h={64} make={makeFLow} />
      <ChartBox x={470} y={265} w={280} h={140} make={makeI} />
      <ChartBox x={355} y={503} w={200} h={141} make={makeJ} />
      <ChartBox x={580} y={510} w={170} h={126} make={makeK} />
      <ChartBox x={380} y={730} w={150} h={135} make={makeL} />
      <ChartBox x={570} y={720} w={160} h={137} make={makeM} />
      <ChartBox x={334} y={915} w={108} h={108} make={makeN1} />
      <ChartBox x={557} y={919} w={107} h={107} make={makeN2} />

      <Heat x={36} y={443} w={203} h={37} rows={[G1_GFP, G1_TI, G1_ITRC, G1_ITR]} labels={ROWS4} />
      <Heat x={36} y={487} w={126} h={37} rows={[G2_GFP, G2_TI, G2_ITRC, G2_ITR]} labels={ROWS4} />
      <Heat x={36} y={538} w={312} h={29} rows={[G3_GFP, G3_TI, G3_HIV]} labels={ROWS3} />
      <Heat x={36} y={571} w={157} h={28} rows={[G4_GFP, G4_TI, G4_HIV]} labels={ROWS3} />
      <Heat x={36} y={615} w={304} h={28} rows={[G5_GFP, G5_TI, G5_HIV]} labels={ROWS3} />
      <Heat x={36} y={649} w={148} h={28} rows={[G6_GFP, G6_TI, G6_HIV]} labels={ROWS3} />
      <Heat x={36} y={697} w={70} h={39} rows={[H1_GFP, H1_TI, H1_ITRC, H1_ITR]} labels={ROWS4} />
      <Heat x={36} y={740} w={232} h={38} rows={[H2_GFP, H2_TI, H2_ITRC, H2_ITR]} labels={ROWS4} />
      <Heat x={36} y={793} w={79} h={29} rows={[H3_GFP, H3_TI, H3_HIV]} labels={ROWS3} />
      <Heat x={36} y={827} w={251} h={29} rows={[H4_GFP, H4_TI, H4_HIV]} labels={ROWS3} />
      <Heat x={36} y={877} w={79} h={28} rows={[H5_GFP, H5_TI, H5_HIV]} labels={ROWS3} />
      <Heat x={36} y={910} w={172} h={29} rows={[H6_GFP, H6_TI, H6_HIV]} labels={ROWS3} />
      <Heat x={36} y={960} w={94} h={39} rows={[O1_GFP, O1_TI, O1_ITRC, O1_ITR]} labels={ROWS4} />
      <Heat x={36} y={1007} w={102} h={38} rows={[O2_GFP, O2_TI, O2_ITRC, O2_ITR]} labels={ROWS4} />

      <svg width={750} height={1046} style={{ position: 'absolute', left: 0, top: 0, pointerEvents: 'none' }}>
        {LINES.map(([x1, y1, x2, y2, c, d], i) => (
          <line key={i} x1={x1} y1={y1} x2={x2} y2={y2} stroke={c || '#8a8a8a'} strokeWidth={0.8} strokeDasharray={d} />
        ))}
        <LegMk x={588} y={34} k="c" c="#e0922a" lc="#f5cf98" />
        <LegMk x={588} y={45} k="c" c="#2b3b95" lc="#a6acdf" />
        <LegMk x={588} y={57} k="u" c="#b4352e" lc="#eba3a0" />
        {[456, 469, 482, 495].map((yy, k) => <LegMk key={'j' + k} x={393} y={yy} k={SER_K[k]} c={SER_C[k]} lc={SER_L[k]} bc={SER_B[k]} />)}
        {[469, 481, 491, 502].map((yy, k) => <LegMk key={'k' + k} x={583} y={yy} k={SER_K[k]} c={SER_C[k]} lc={SER_L[k]} bc={SER_B[k]} />)}
        {[682, 693, 704, 715].map((yy, k) => <LegMk key={'l' + k} x={408} y={yy} k={SER_K[k]} c={SER_C[k]} lc={SER_L[k]} bc={SER_B[k]} />)}
        {[677, 688, 698, 710].map((yy, k) => <LegMk key={'m' + k} x={591} y={yy} k={SER_K[k]} c={SER_C[k]} lc={SER_L[k]} bc={SER_B[k]} />)}
      </svg>

      {/* Panel A */}
      <T x={2} y={10} s={15} b>A</T>
      <T x={147} y={20} b a="c">RNP + IDLV</T>
      <T x={271} y={14} b a="c">RNP +</T>
      <T x={271} y={23.5} b a="c">ssAAV2/6</T>
      <T x={271} y={33} b a="c">(opt)</T>
      <T x={11} y={100} r={-90}>% GFP⁺ cells</T>
      {A_SERIES.map((s, j) => (
        <React.Fragment key={s}>
          <Box x={41} y={[33, 44, 55, 67][j]} bg={A_COLORS[j]} />
          <T x={56} y={[33, 44, 55, 67][j]} s={8.5}>{s}</T>
        </React.Fragment>
      ))}
      <T x={95} y={210} a="c">24h pre-electro</T>
      <T x={207} y={210} a="c">12h pre-electro</T>
      <T x={171} y={231} a="c">+ CsH + GSE56/E4orf6/7</T>

      {/* Panel B */}
      <T x={296} y={10} s={15} b>B</T>
      <T x={313} y={100} r={-90}>% HDR-edited alleles</T>

      {/* Panel C */}
      <T x={422} y={10} s={15} b>C</T>
      <Box x={463} y={13} w={9} h={6} bg="#fff" bd="0.8px solid #777" />
      <T x={475} y={13} s={8.5}>Myeloid</T>
      <Box x={510} y={13} w={9} h={6} bg="#c8413f" />
      <T x={522} y={13} s={8.5}>Erythroid</T>
      <T x={514} y={29} a="c"><i>P</i> &lt; 0.0001</T>
      <T x={532} y={42} a="c"><i>P</i> = 0.0529</T>
      <T x={543} y={54} a="c"><i>P</i> = 0.0318</T>
      <T x={434} y={100} r={-90}>Number of colonies</T>

      {/* Panel D */}
      <T x={576} y={10} s={15} b>D</T>
      <T x={598} y={34} s={8.5}>RNP + IDLV (1 hit, opt)</T>
      <T x={598} y={45} s={8.5}>RNP + IDLV (2 hits, opt)</T>
      <T x={598} y={57} s={8.5}>RNP + ssAAV2/6 (opt)</T>
      <T x={686} y={36}><i>P</i> &lt; 0.0001</T>
      <T x={691} y={52}><i>P</i> &lt; 0.0001</T>
      <T x={594} y={135} r={-90}>Fold change <i>CDKN1A</i></T>
      <T x={605} y={135} r={-90}>expression relative to UT</T>
      <T x={669} y={203} a="c">Day after editing</T>

      {/* Panel E */}
      <T x={2} y={248} s={15} b>E</T>
      <T x={47} y={250} s={8.5}>Number of foci:</T>
      {[107, 143, 176, 208, 237, 263].map((bx, k) => (
        <React.Fragment key={'e' + k}>
          <Box x={bx} y={250} w={12} h={6} bg={E_COLORS[k]} bd={k === 5 ? '0.8px solid #777' : 'none'} />
          <T x={[128, 162, 195, 227, 256, 278][k]} y={250} s={8.5}>{E_FOCI[k]}</T>
        </React.Fragment>
      ))}
      <T x={13} y={305} r={-90}>% NBS1⁺ cells</T>
      <T x={63} y={428} a="c">1 d</T>
      <T x={149} y={428} a="c">4 d</T>
      <T x={244} y={428} a="c">7 d</T>

      {/* Panel F */}
      <T x={322} y={250} s={15} b>F</T>
      <Box x={378} y={254} w={10} h={6} bg="#c2185b" />
      <T x={392} y={254} s={8.5}>HIV</T>
      <Box x={407} y={254} w={10} h={6} bg="#4da338" />
      <T x={422} y={254} s={8.5}>GFP</T>
      <T x={377} y={269} a="c">RNP + IDLV</T>
      <T x={377} y={279} a="c">(1 hit, opt)</T>
      <T x={442} y={269} a="c">RNP + IDLV</T>
      <T x={442} y={279} a="c">(2 hits, opt)</T>
      <T x={327} y={335} r={-90}>Copies / human genome</T>
      <T x={405} y={402} a="c">Days after editing</T>

      {/* Panel I */}
      <T x={488} y={250} s={15} b>I</T>
      <T x={502} y={315} r={-90}>Copies / human genome</T>
      <T x={568} y={392} a="c">RNP +</T>
      <T x={568} y={403} a="c">ssAAV2/6 (opt)</T>
      <T x={632} y={392} a="c">RNP +</T>
      <T x={632} y={403} a="c">IDLV (1 hit, opt)</T>
      <T x={698} y={392} a="c">RNP +</T>
      <T x={698} y={403} a="c">IDLV (2 hits, opt)</T>

      {/* Panel G */}
      <T x={2} y={438} s={15} b>G</T>
      <T x={26} y={461} r={-90} b>GFP+</T>
      <T x={26} y={505} r={-90} b>GFP-</T>
      <T x={11} y={485} r={-90} s={7} b>RNP + ssAAV2/6 (opt)</T>
      <T x={26} y={552} r={-90} b>GFP+</T>
      <T x={26} y={585} r={-90} b>GFP-</T>
      <T x={11} y={568} r={-90} s={7} b>RNP + IDLV (1 hit, opt)</T>
      <T x={26} y={628} r={-90} b>GFP+</T>
      <T x={26} y={663} r={-90} b>GFP-</T>
      <T x={11} y={645} r={-90} s={7} b>RNP + IDLV (2 hits, opt)</T>
      <T x={290} y={468} s={7.5}>Copies / human genome:</T>
      <ColorBar x={310} y={475} w={8} h={28} />

      {/* Panel H */}
      <T x={2} y={694} s={15} b>H</T>
      <T x={26} y={717} r={-90} b>GFP+</T>
      <T x={26} y={758} r={-90} b>GFP-</T>
      <T x={11} y={737} r={-90} s={7} b>RNP + ssAAV2/6 (opt)</T>
      <T x={26} y={808} r={-90} b>GFP+</T>
      <T x={26} y={842} r={-90} b>GFP-</T>
      <T x={11} y={823} r={-90} s={7} b>RNP + IDLV (1 hit, opt)</T>
      <T x={26} y={891} r={-90} b>GFP+</T>
      <T x={26} y={925} r={-90} b>GFP-</T>
      <T x={11} y={905} r={-90} s={7} b>RNP + IDLV (2 hits, opt)</T>
      <T x={298} y={697} s={7.5} a="c">Copies / human genome:</T>
      <ColorBar x={282} y={703} w={8} h={28} />

      {/* Panel O */}
      <T x={2} y={953} s={15} b>O</T>
      <T x={26} y={980} r={-90} b>GFP+</T>
      <T x={26} y={1025} r={-90} b>GFP-</T>
      <T x={11} y={1000} r={-90} s={7} b>RNP + ssAAV2/6 (opt)</T>
      <T x={226} y={987} s={7.5} a="c">Copies / human genome:</T>
      <ColorBar x={208} y={993} w={9} h={27} />

      {/* Panel J */}
      <T x={367} y={438} s={15} b>J</T>
      <T x={377} y={475} r={-90}>RNP +</T>
      {leg(393, 405, [456, 469, 482, 495])}
      <T x={543} y={474}>NS</T>
      <T x={378} y={570} r={-90}>% hCD45⁺ cells</T>
      <T x={467} y={649} a="c">Weeks after transplantation</T>

      {/* Panel K */}
      <T x={566} y={438} s={15} b>K</T>
      <T x={570} y={486} r={-90}>RNP +</T>
      {leg(583, 592, [469, 481, 491, 502])}
      <T x={703} y={466} r={90} s={7.5}><i>P</i> &lt; 0.0001</T>
      <T x={721} y={493} r={90} s={7.5}><i>P</i> = 0.001</T>
      <T x={742} y={495} r={90} s={7.5}><i>P</i> &lt; 0.0001</T>
      <T x={593} y={567} r={-90}>% GFP+ cells (w/i hCD45⁺)</T>
      <T x={685} y={638} a="c">Weeks after transplantation</T>

      {/* Panel L */}
      <T x={370} y={664} s={15} b>L</T>
      <T x={393} y={697} r={-90}>RNP +</T>
      {leg(408, 417, [682, 693, 704, 715])}
      <T x={476} y={744} a="c">NS</T>
      <T x={490} y={756} a="c">NS</T>
      <T x={500} y={767} a="c">NS</T>
      <T x={395} y={795} r={-90}>HIV or ITR copies / human genome</T>

      {/* Panel M */}
      <T x={566} y={664} s={15} b>M</T>
      <T x={577} y={690} r={-90}>RNP +</T>
      {leg(591, 600, [677, 688, 698, 710])}
      <T x={662} y={731} a="c"><i>P</i> = 0.04</T>
      <T x={682} y={744} a="c">NS</T>
      <T x={693} y={758} a="c"><i>P</i> = 0.0043</T>
      <T x={593} y={790} r={-90}>% trapped alleles with ITR or LTR</T>

      {/* Panel N */}
      <T x={322} y={883} s={15} b>N</T>
      <T x={396} y={888} b a="c">RNP + IDLV (1 or 2 hits)</T>
      <T x={617} y={888} b a="c">RNP + ssAAV2/6 (opt)</T>
      <T x={374} y={906} a="c">8.2%</T>
      <T x={403} y={906}><i>COX6B1</i> (chr. 19, intronic)</T>
      <T x={415} y={952} a="c">30.6%</T>
      <T x={413} y={993} a="c">16.3%</T>
      <T x={358} y={955} a="c">20.4%</T>
      <T x={368} y={1030} a="c">6.1%</T>
      <T x={396} y={1032} a="c">4.1%</T>
      <T x={336} y={1013} a="c">10.2%</T>
      <T x={326} y={983} a="c">4.1%</T>
      {N1_LABELS.map((l, k) => (
        <React.Fragment key={l}>
          <Box x={453} y={939 + k * 9.6} w={9} h={6.5} bg={N1_COLORS[k]} bd="0.5px solid #555" />
          <T x={466} y={939 + k * 9.6} s={8.5}>{l}</T>
        </React.Fragment>
      ))}
      <T x={598} y={912} a="c">6.5%</T>
      <T x={632} y={906}>Plasmid backbone</T>
      <T x={632} y={916}>Kanamycin resistance</T>
      <T x={635} y={971} a="c">48.4%</T>
      <T x={565} y={1020} a="c">22.6%</T>
      <T x={543} y={955} a="c">3.2%</T>
      <T x={538} y={968} a="c">3.2%</T>
      <T x={543} y={982} a="c">3.2%</T>
      <T x={558} y={927} a="c">12.9%</T>
      {N2_LABELS.map((l, k) => (
        <React.Fragment key={l}>
          <Box x={670} y={[939, 949, 958, 968, 978, 988, 999][k]} w={9} h={6.5}
            bg={N2_COLORS[k] === 'STRIPE' ? 'repeating-linear-gradient(90deg, #4a72c3 0px, #4a72c3 3px, #cfcfcf 3px, #cfcfcf 5px)' : N2_COLORS[k]} bd="0.5px solid #555" />
          <T x={682} y={[939, 949, 958, 968, 978, 988, 999][k]} s={8.5}>{l}</T>
        </React.Fragment>
      ))}
    </div>
  );
}
